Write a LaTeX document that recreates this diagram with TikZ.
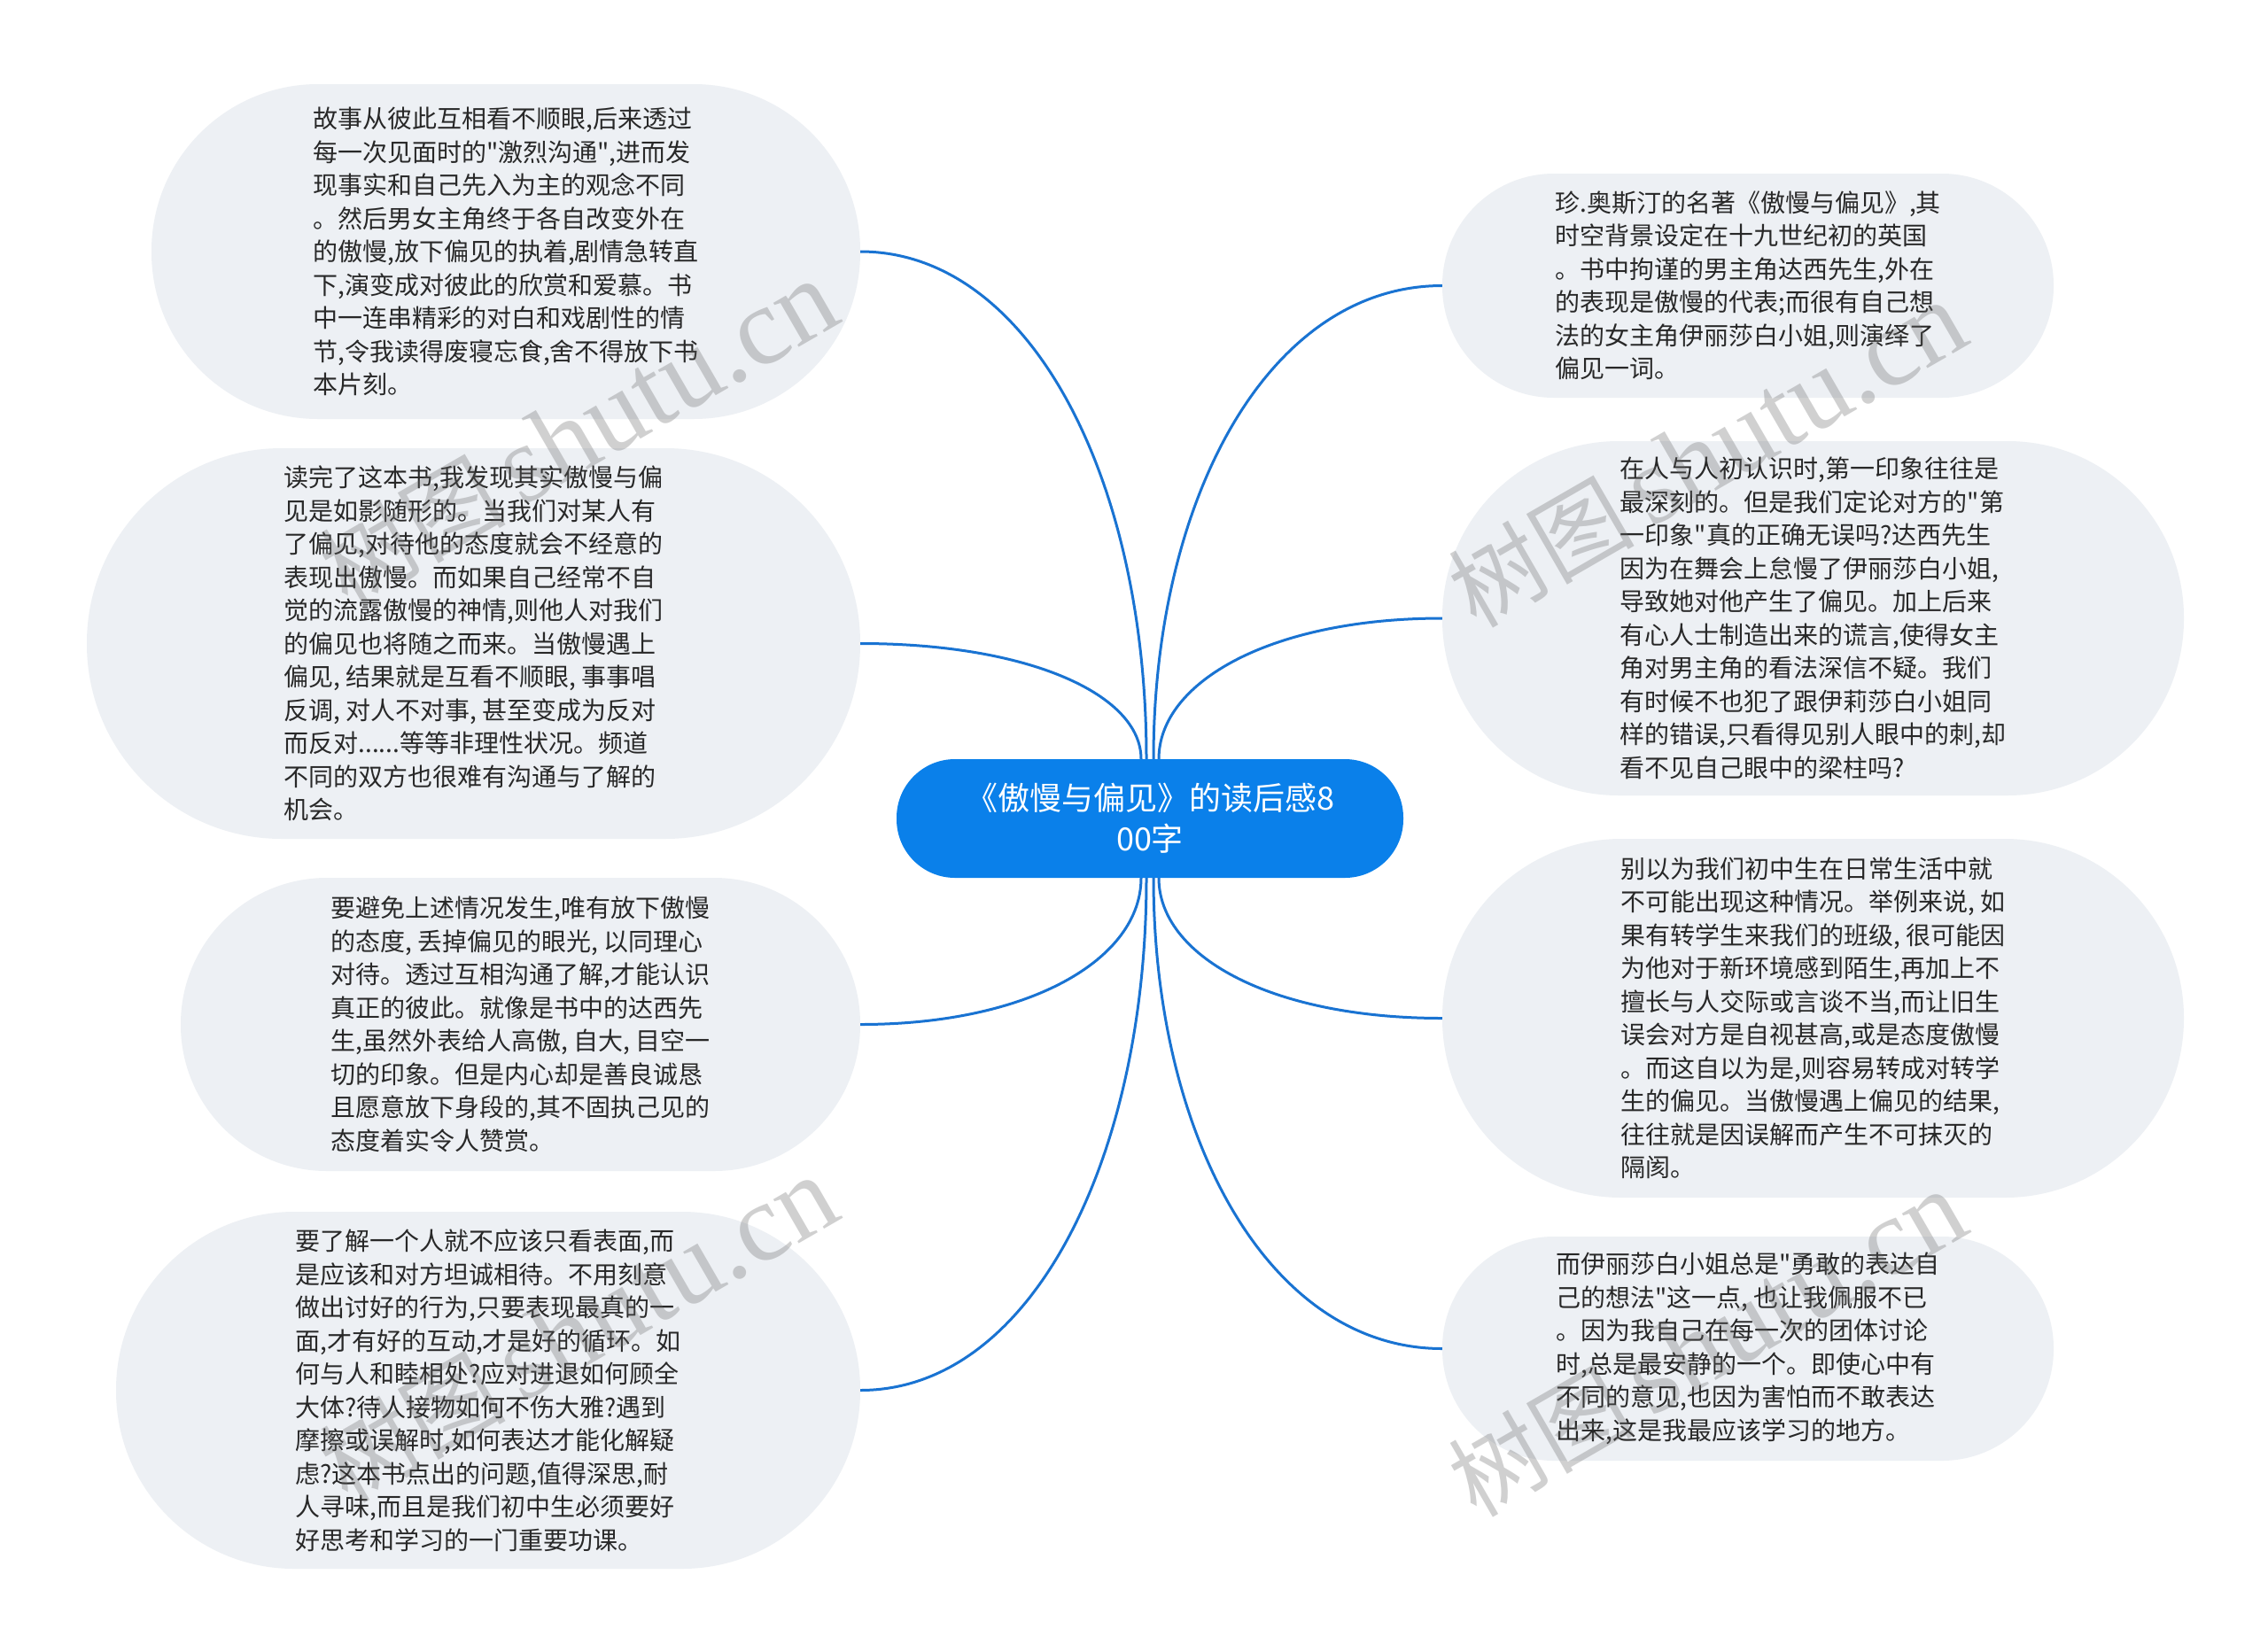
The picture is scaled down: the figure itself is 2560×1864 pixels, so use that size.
\documentclass[tikz,border=0pt]{standalone}
\usepackage{fontspec}
\setmainfont{Noto Sans CJK SC}
\newfontfamily\qfont{Noto Sans CJK SC}
\newfontfamily\wmserif{Liberation Serif}
\newcommand{\sdq}{{\qfont\char34}}
\definecolor{nodefill}{RGB}{237,240,244}
\definecolor{rootblue}{RGB}{10,128,234}
\definecolor{linkblue}{RGB}{25,115,210}
\definecolor{txt}{RGB}{40,40,40}
\tikzset{
  leaf/.style={fill=nodefill, draw=none, align=left, text=txt,
    font=\fontsize{28}{37.5}\selectfont, inner sep=0pt},
  rootnode/.style={fill=rootblue, draw=none, align=center, text=white,
    font=\fontsize{36}{46}\selectfont, inner sep=0pt,
    minimum width=572pt, minimum height=134pt, rounded corners=66pt},
  link/.style={draw=linkblue, line width=3pt},
  wm/.style={text=black!60, opacity=0.3, rotate=30, inner sep=0pt}
}
\begin{document}
\begin{tikzpicture}[x=1pt,y=-1pt]
\fill[white] (0,0) rectangle (2560,1864);
\useasboundingbox (0,0) rectangle (2560,1864);

\node[rootnode] (root) at (1298,924) {《傲慢与偏见》的读后感8\\00字};

\node[leaf, minimum width=800pt, minimum height=378pt, rounded corners=188pt] (l1) at (571,284) {故事从彼此互相看不顺眼,后来透过\\
每一次见面时的\sdq 激烈沟通\sdq,进而发\\
现事实和自己先入为主的观念不同\\
。然后男女主角终于各自改变外在\\
的傲慢,放下偏见的执着,剧情急转直\\
下,演变成对彼此的欣赏和爱慕。书\\
中一连串精彩的对白和戏剧性的情\\
节,令我读得废寝忘食,舍不得放下书\\
本片刻。};

\node[leaf, minimum width=873pt, minimum height=441pt, rounded corners=220pt] (l2) at (534.5,726.5) {读完了这本书,我发现其实傲慢与偏\\
见是如影随形的。当我们对某人有\\
了偏见,对待他的态度就会不经意的\\
表现出傲慢。而如果自己经常不自\\
觉的流露傲慢的神情,则他人对我们\\
的偏见也将随之而来。当傲慢遇上\\
偏见, 结果就是互看不顺眼, 事事唱\\
反调, 对人不对事, 甚至变成为反对\\
而反对......等等非理性状况。频道\\
不同的双方也很难有沟通与了解的\\
机会。};

\node[leaf, minimum width=767pt, minimum height=331pt, rounded corners=165pt] (l3) at (587.5,1156.5) {要避免上述情况发生,唯有放下傲慢\\
的态度, 丢掉偏见的眼光, 以同理心\\
对待。透过互相沟通了解,才能认识\\
真正的彼此。就像是书中的达西先\\
生,虽然外表给人高傲, 自大, 目空一\\
切的印象。但是内心却是善良诚恳\\
且愿意放下身段的,其不固执己见的\\
态度着实令人赞赏。};

\node[leaf, minimum width=840pt, minimum height=403pt, rounded corners=201pt] (l4) at (551,1569.5) {要了解一个人就不应该只看表面,而\\
是应该和对方坦诚相待。不用刻意\\
做出讨好的行为,只要表现最真的一\\
面,才有好的互动,才是好的循环。如\\
何与人和睦相处?应对进退如何顾全\\
大体?待人接物如何不伤大雅?遇到\\
摩擦或误解时,如何表达才能化解疑\\
虑?这本书点出的问题,值得深思,耐\\
人寻味,而且是我们初中生必须要好\\
好思考和学习的一门重要功课。};

\node[leaf, minimum width=690pt, minimum height=253pt, rounded corners=126pt] (r1) at (1973,322.5) {珍.奥斯汀的名著《傲慢与偏见》,其\\
时空背景设定在十九世纪初的英国\\
。书中拘谨的男主角达西先生,外在\\
的表现是傲慢的代表;而很有自己想\\
法的女主角伊丽莎白小姐,则演绎了\\
偏见一词。};

\node[leaf, minimum width=837pt, minimum height=400pt, rounded corners=199pt] (r2) at (2046.5,698) {在人与人初认识时,第一印象往往是\\
最深刻的。但是我们定论对方的\sdq 第\\
一印象\sdq 真的正确无误吗?达西先生\\
因为在舞会上怠慢了伊丽莎白小姐,\\
导致她对他产生了偏见。加上后来\\
有心人士制造出来的谎言,使得女主\\
角对男主角的看法深信不疑。我们\\
有时候不也犯了跟伊莉莎白小姐同\\
样的错误,只看得见别人眼中的刺,却\\
看不见自己眼中的梁柱吗?};

\node[leaf, minimum width=837pt, minimum height=405pt, rounded corners=202pt] (r3) at (2046.5,1149.5) {别以为我们初中生在日常生活中就\\
不可能出现这种情况。举例来说, 如\\
果有转学生来我们的班级, 很可能因\\
为他对于新环境感到陌生,再加上不\\
擅长与人交际或言谈不当,而让旧生\\
误会对方是自视甚高,或是态度傲慢\\
。而这自以为是,则容易转成对转学\\
生的偏见。当傲慢遇上偏见的结果,\\
往往就是因误解而产生不可抹灭的\\
隔阂。};

\node[leaf, minimum width=690pt, minimum height=253pt, rounded corners=126pt] (r4) at (1973,1522.5) {而伊丽莎白小姐总是\sdq 勇敢的表达自\\
己的想法\sdq 这一点, 也让我佩服不已\\
。因为我自己在每一次的团体讨论\\
时,总是最安静的一个。即使心中有\\
不同的意见,也因为害怕而不敢表达\\
出来,这是我最应该学习的地方。};

% connectors
\draw[link] ([xshift=-4pt]root.north) .. controls +(0,-317) and +(191,0) .. (l1.east);
\draw[link] ([xshift=-10pt]root.north) .. controls +(0,-72) and +(192,0) .. (l2.east);
\draw[link] ([xshift=4pt]root.north) .. controls +(0,-294) and +(-196,0) .. (r1.west);
\draw[link] ([xshift=10pt]root.north) .. controls +(0,-87) and +(-193,0) .. (r2.west);
\draw[link] ([xshift=-10pt]root.south) .. controls +(0,91) and +(192,0) .. (l3.east);
\draw[link] ([xshift=-4pt]root.south) .. controls +(0,318) and +(192,0) .. (l4.east);
\draw[link] ([xshift=10pt]root.south) .. controls +(0,87) and +(-196,0) .. (r3.west);
\draw[link] ([xshift=4pt]root.south) .. controls +(0,292) and +(-196,0) .. (r4.west);

% watermarks
\node[wm] (wm1) at (653,490) {\fontsize{105}{105}\selectfont 树图\,{\wmserif\fontsize{125}{125}\selectfont shutu.cn}};
\node[wm] (wm2) at (1927,514) {\fontsize{105}{105}\selectfont 树图\,{\wmserif\fontsize{125}{125}\selectfont shutu.cn}};
\node[wm] (wm3) at (653,1502) {\fontsize{105}{105}\selectfont 树图\,{\wmserif\fontsize{125}{125}\selectfont shutu.cn}};
\node[wm] (wm4) at (1927,1518) {\fontsize{105}{105}\selectfont 树图\,{\wmserif\fontsize{125}{125}\selectfont shutu.cn}};
\end{tikzpicture}
\end{document}
